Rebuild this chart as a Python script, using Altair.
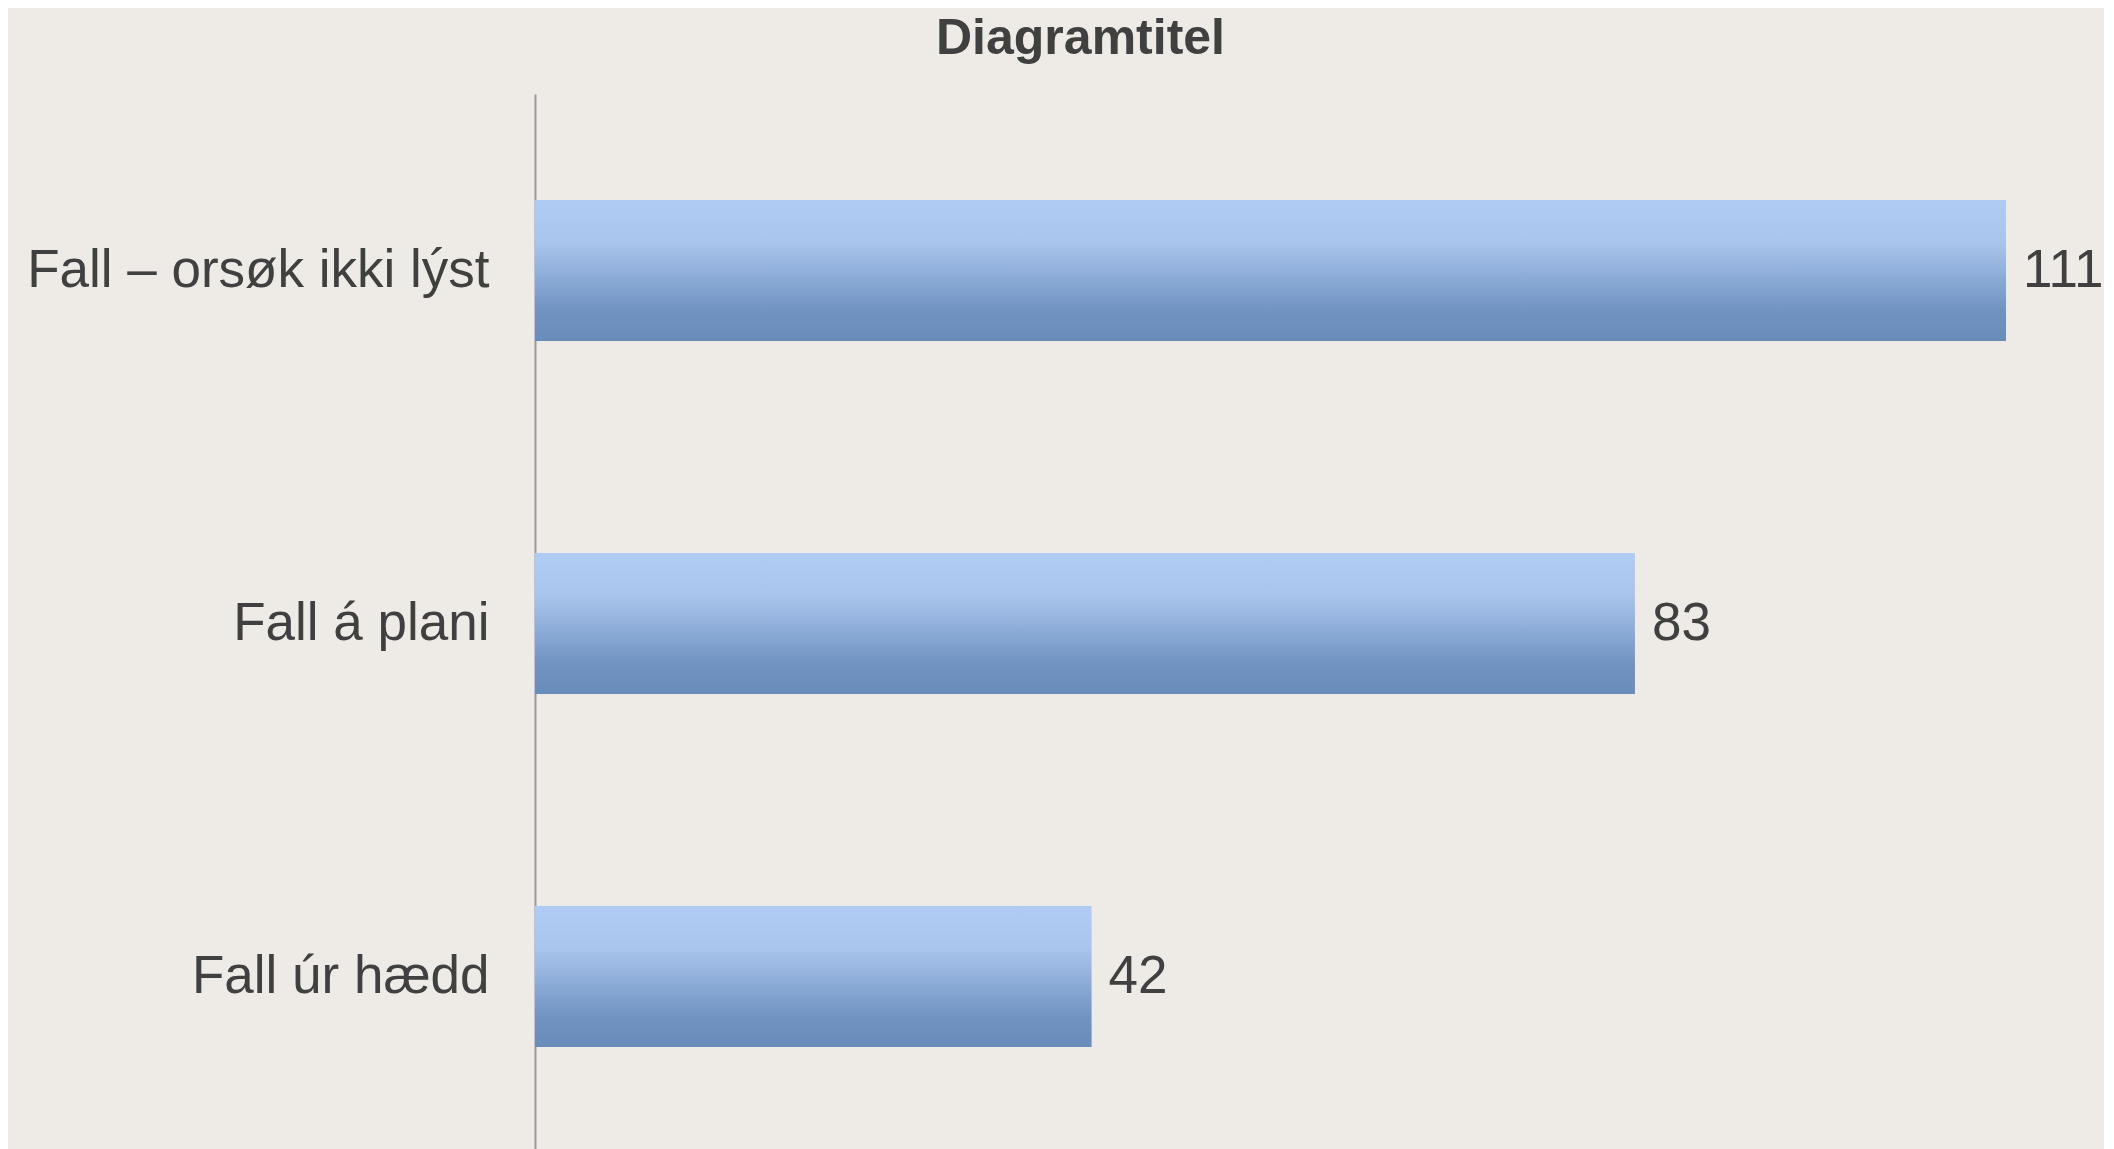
import altair as alt
import pandas as pd

categories = ["Fall – orsøk ikki lýst", "Fall á plani", "Fall úr hædd"]
values = [111, 83, 42]

df = pd.DataFrame({"kategori": categories, "tal": values})

text_color = "#404040"
font = "Liberation Sans"

grad = alt.LinearGradient(
    gradient="linear",
    x1=0, y1=0, x2=0, y2=1,
    stops=[
        alt.GradientStop(offset=0, color="#b0ccf4"),
        alt.GradientStop(offset=0.3, color="#a9c5ed"),
        alt.GradientStop(offset=0.8, color="#6f92c1"),
        alt.GradientStop(offset=1, color="#6a8cbb"),
    ],
)

x = alt.X("tal:Q", scale=alt.Scale(domain=[0, 111], nice=False, zero=True), axis=None)
y = alt.Y(
    "kategori:N",
    sort=categories,
    scale=alt.Scale(paddingInner=0.6, paddingOuter=0.3),
    axis=alt.Axis(
        title=None,
        ticks=False,
        labelFontSize=53,
        labelFont=font,
        labelColor=text_color,
        labelPadding=46,
        labelLimit=800,
        domainColor="#9a9a9a",
        domainWidth=2,
        grid=False,
    ),
)

bars = alt.Chart(df).mark_bar(color=grad).encode(x=x, y=y)
labels = alt.Chart(df).mark_text(
    align="left", baseline="middle", dx=17, fontSize=53, font=font, color=text_color
).encode(x=x, y=y, text="tal:Q")

chart = (
    alt.layer(bars, labels)
    .properties(
        width=1471,
        height=1059,
        background="#eeebe6",
        padding={"left": 18, "top": 6, "right": 0, "bottom": 0},
        title=alt.TitleParams(
            text="Diagramtitel",
            fontSize=50,
            font=font,
            fontWeight="bold",
            color=text_color,
            anchor="middle",
            dx=-190,
            offset=30,
        ),
    )
    .configure_view(stroke=None)
)

chart.save("out.html", embed_options={"renderer": "svg", "actions": False})
